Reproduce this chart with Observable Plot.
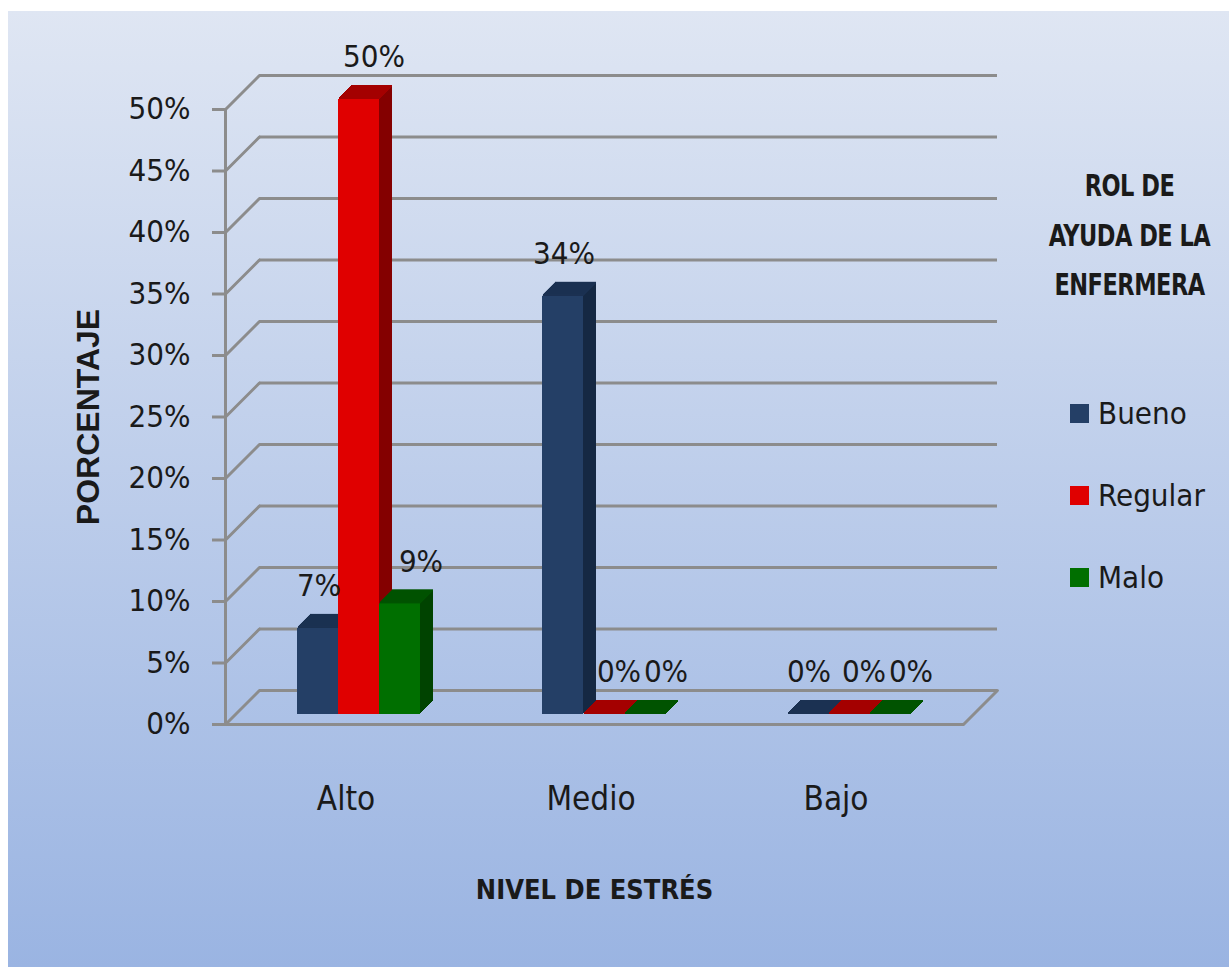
<!DOCTYPE html>
<html>
<head>
<meta charset="utf-8">
<script src="https://cdn.jsdelivr.net/npm/d3@7"></script>
<script src="https://cdn.jsdelivr.net/npm/@observablehq/plot@0.6"></script>
<style>
  html, body { margin: 0; padding: 0; background: #fff; width: 1229px; height: 967px; overflow: hidden; }
  #panel { position: absolute; left: 8px; top: 11px; right: 0; bottom: 0;
           background: linear-gradient(to bottom, #dfe6f3, #9ab4e2); }
  #chart { position: absolute; left: 0; top: 0; }
  .narrow { font-family: "Liberation Sans Narrow", "DejaVu Sans Condensed", "Arial Narrow", sans-serif; }
  #legend { position: absolute; left: 1030px; top: 0; width: 199px; height: 967px; color: #1a1a1a; }
  #legend .title { position: absolute; left: 0; width: 199px; top: 161px; text-align: center; white-space: nowrap;
                   font-weight: bold; font-size: 25px; line-height: 41.5px; letter-spacing: -0.5px;
                   transform: scaleY(1.2); transform-origin: 50% 0; }
  #legend .item { position: absolute; left: 40px; height: 40px; display: flex; align-items: center; font-size: 31px; }
  #legend .sw { width: 19px; height: 19px; margin-right: 9px; }
</style>
</head>
<body>
<div id="panel"></div>
<div id="chart"></div>
<div id="legend" class="narrow"></div>
<script>
// Nivel de estrés (x categories) and rol de ayuda de la enfermera (series)
const categories = ["Alto", "Medio", "Bajo"];
const series = ["Bueno", "Regular", "Malo"];
const bueno = [7, 34, 0];
const regular = [50, 0, 0];
const malo = [9, 0, 0];
const yTicks = [0, 5, 10, 15, 20, 25, 30, 35, 40, 45, 50];

const frontColors = ["#243f66", "#e00000", "#006f00"];
const topColors   = ["#1b3152", "#a40000", "#005300"];
const sideColors  = ["#152843", "#840000", "#004300"];

const values = [bueno, regular, malo];
const table = series.flatMap((s, i) =>
  categories.map((c, j) => ({nivel: c, serie: s, valor: values[i][j]}))
);

const font = '"Liberation Sans Narrow", "DejaVu Sans Condensed", "Arial Narrow", sans-serif';
const gridColor = "#8c8c8c";
const textColor = "#1a1a1a";

// 3D look: bars sit a little behind the front plane, back wall further behind
const wall = 48;            // diagonal length of the side wall / floor edge
const wallShift = 34;       // back wall offset (x right, y up)
const planeDx = 9, planeDy = -10;
const depth = 13;
const bw = 41;              // bandwidth produced by the x padding below
const labelShift = [10, 24, 30];

const lineShape = {
  draw(context, l) { context.moveTo(0, 0); context.lineTo(0, -l); }
};

const barMarks = series.flatMap((s, i) => {
  const data = table.filter(d => d.serie === s);
  const base = (i - 1) * bw + planeDx;
  const layers = d3.range(depth, 0, -1);
  return [
    ...layers.map(k => Plot.barY(data, {
      x: "nivel", y1: 0, y2: "valor", dx: base + k, dy: planeDy - k, fill: sideColors[i]
    })),
    ...layers.map(k => Plot.barY(data, {
      x: "nivel", y1: "valor", y2: "valor", insetTop: -1, insetBottom: -1,
      dx: base + k, dy: planeDy - k, fill: topColors[i]
    })),
    Plot.barY(data, {x: "nivel", y1: 0, y2: "valor", dx: base, dy: planeDy, fill: frontColors[i]})
  ];
});

const labelMarks = series.map((s, i) => Plot.text(table.filter(d => d.serie === s), {
  x: "nivel", y: "valor", text: d => d.valor + "%",
  dx: (i - 1) * bw + labelShift[i], dy: -52,
  fontSize: 31, fill: textColor, lineAnchor: "middle", textAnchor: "middle"
}));

const chart = Plot.plot({
  width: 1229,
  height: 967,
  marginLeft: 225,
  marginRight: 266,
  marginTop: 109,
  marginBottom: 243,
  style: {background: "transparent", fontFamily: font, overflow: "visible"},
  x: {domain: categories, paddingInner: 0.8333, paddingOuter: 0.4167, axis: null},
  y: {domain: [0, 50], axis: null},
  marks: [
    // back wall gridlines
    Plot.ruleY(yTicks, {y: d => d, dx: wallShift, dy: -wallShift, stroke: gridColor, strokeWidth: 3}),
    // left wall diagonals
    Plot.vector(yTicks, {y: d => d, frameAnchor: "left", length: wall, rotate: 45, anchor: "start",
      shape: lineShape, stroke: gridColor, strokeWidth: 3}),
    // floor: front edge and right edge
    Plot.ruleY([0], {y: d => d, stroke: gridColor, strokeWidth: 3}),
    Plot.vector([0], {y: d => d, frameAnchor: "right", length: wall, rotate: 45, anchor: "start",
      shape: lineShape, stroke: gridColor, strokeWidth: 3}),
    Plot.frame({anchor: "left", stroke: gridColor, strokeWidth: 3}),
    Plot.axisY({ticks: yTicks, tickFormat: d => d + "%", tickSize: 13, tickPadding: 22,
      stroke: gridColor, strokeWidth: 3, fill: textColor, fontSize: 31, label: null}),
    Plot.axisX({tickSize: 0, tickPadding: 62, dx: -4, fill: textColor, fontSize: 33, label: null}),
    ...barMarks,
    ...labelMarks,
    Plot.text(["NIVEL DE ESTRÉS"], {frameAnchor: "bottom", dy: 166, lineAnchor: "middle", textAnchor: "middle",
      fontWeight: "bold", fontSize: 27, fill: textColor}),
    Plot.text(["PORCENTAJE"], {frameAnchor: "left", dx: -137, rotate: -90, lineAnchor: "middle", textAnchor: "middle",
      fontWeight: "bold", fontSize: 32, fill: textColor, fontFamily: '"Liberation Sans", Arial, sans-serif'})
  ]
});
document.getElementById("chart").append(chart);

// legend
const legend = document.getElementById("legend");
const title = document.createElement("div");
title.className = "title";
title.innerHTML = "ROL DE<br>AYUDA DE LA<br>ENFERMERA";
legend.append(title);
const itemCenters = [413, 495, 577];
series.forEach((s, i) => {
  const item = document.createElement("div");
  item.className = "item";
  item.style.top = (itemCenters[i] - 20) + "px";
  const sw = document.createElement("div");
  sw.className = "sw";
  sw.style.background = frontColors[i];
  const label = document.createElement("span");
  label.textContent = s;
  item.append(sw, label);
  legend.append(item);
});
</script>
</body>
</html>
